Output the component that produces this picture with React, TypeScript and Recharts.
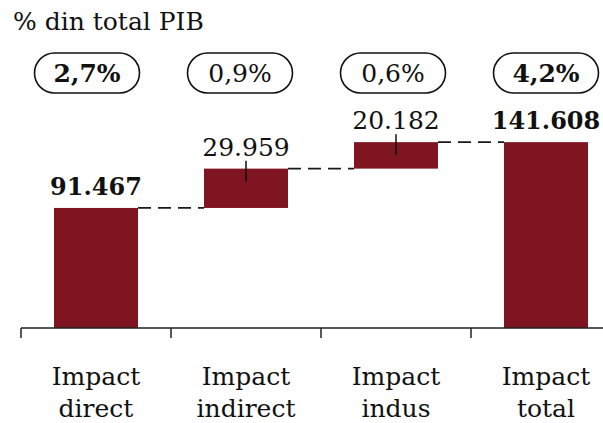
import React from 'react';
import { BarChart, Bar, XAxis, YAxis, LabelList } from 'recharts';

const categories = ['Impact direct', 'Impact indirect', 'Impact indus', 'Impact total'];
const values = [91467, 29959, 20182, 141608];
const shares = ['2,7%', '0,9%', '0,6%', '4,2%'];
const isTotal = [true, false, false, true];
const title = '% din total PIB';

const FONT = '"DejaVu Serif", Georgia, serif';
const BAR_COLOR = '#7f1520';
const INK = '#111111';

let running = 0;
const data = categories.map((name, i) => {
  const base = isTotal[i] ? 0 : running;
  running = isTotal[i] ? values[i] : running + values[i];
  return { name, base, value: values[i], share: shares[i], total: isTotal[i] };
});

const fmt = (n: number) => String(n).replace(/\B(?=(\d{3})+(?!\d))/g, '.');

const StepBar = (props: any) => {
  const { x, y, width, height, index, background } = props;
  let gap = 66;
  if (background && background.width && background.width > width + 1) {
    gap = 2 * (background.x + background.width - (x + width));
  }
  const cx = x + width / 2;
  return (
    <g>
      <rect x={x} y={y} width={width} height={height} fill={BAR_COLOR} />
      {index < values.length - 1 && (
        <line x1={x + width} x2={x + width + gap} y1={y} y2={y} stroke="#1a1a1a" strokeWidth={1.8} strokeDasharray="13 7" />
      )}
      {!isTotal[index] && (
        <line x1={cx} x2={cx} y1={y - 8} y2={y + 13} stroke={INK} strokeWidth={1.5} />
      )}
    </g>
  );
};

const ValueLabel = (props: any) => {
  const vb = props.viewBox || {};
  const x = props.x ?? vb.x;
  const y = props.y ?? vb.y;
  const width = props.width ?? vb.width;
  const idx = props.index;
  const bold = isTotal[idx];
  return (
    <text
      x={x + width / 2}
      y={y - 13}
      textAnchor="middle"
      fontFamily={FONT}
      fontSize={bold ? 24 : 25}
      fontWeight={bold ? 700 : 400}
      fill={INK}
    >
      {fmt(props.value)}
    </text>
  );
};

const PillTick = (props: any) => {
  const { x, y, payload } = props;
  const i = payload.index;
  const cx = x + (i - (shares.length - 1)) * 3;
  const cy = y - 45;
  const w = 105;
  const h = 40;
  return (
    <g>
      <rect x={cx - w / 2} y={cy - h / 2} width={w} height={h} rx={h / 2} ry={h / 2} fill="#fff" stroke={INK} strokeWidth={1.6} />
      <text x={cx} y={cy + 9} textAnchor="middle" fontFamily={FONT} fontSize={25} fontWeight={isTotal[i] ? 700 : 400} fill={INK}>
        {shares[i]}
      </text>
    </g>
  );
};

const CatTick = (props: any) => {
  const { x, y, payload } = props;
  const off = payload && payload.offset ? payload.offset : 75;
  const words = String(payload.value).split(' ');
  return (
    <g>
      <line x1={x - off} x2={x - off} y1={y} y2={y + 10} stroke="#222" strokeWidth={1.5} />
      <text textAnchor="middle" fontFamily={FONT} fontSize={25} fill={INK}>
        <tspan x={x} y={y + 57}>{words[0]}</tspan>
        <tspan x={x} y={y + 89}>{words.slice(1).join(' ')}</tspan>
      </text>
    </g>
  );
};

export default function App() {
  return (
    <div style={{ position: 'fixed', left: 0, top: 0, width: 603, height: 423, overflow: 'hidden', background: '#fff' }}>
      <BarChart
        width={621}
        height={423}
        data={data}
        margin={{ top: 53, right: 0, left: 21, bottom: 0 }}
        barSize={84}
      >
        <XAxis
          xAxisId="top"
          orientation="top"
          dataKey="name"
          height={65}
          axisLine={false}
          tickLine={false}
          tickSize={0}
          tickMargin={0}
          interval={0}
          tick={<PillTick />}
        />
        <XAxis
          dataKey="name"
          height={95}
          interval={0}
          tickSize={0}
          tickMargin={0}
          axisLine={{ stroke: '#222', strokeWidth: 1.5 }}
          tickLine={false}
          tick={<CatTick />}
        />
        <YAxis hide domain={[0, 160000]} />
        <Bar dataKey="base" stackId="a" fill="transparent" isAnimationActive={false} />
        <Bar
          dataKey="value"
          stackId="a"
          background={{ fill: 'transparent' }}
          shape={<StepBar />}
          isAnimationActive={false}
        >
          <LabelList dataKey="value" content={<ValueLabel />} />
        </Bar>
      </BarChart>
      <svg width={603} height={50} style={{ position: 'absolute', left: 0, top: 0, pointerEvents: 'none' }}>
        <text x={13} y={30} fontFamily={FONT} fontSize={25} fill={INK}>{title}</text>
      </svg>
    </div>
  );
}
